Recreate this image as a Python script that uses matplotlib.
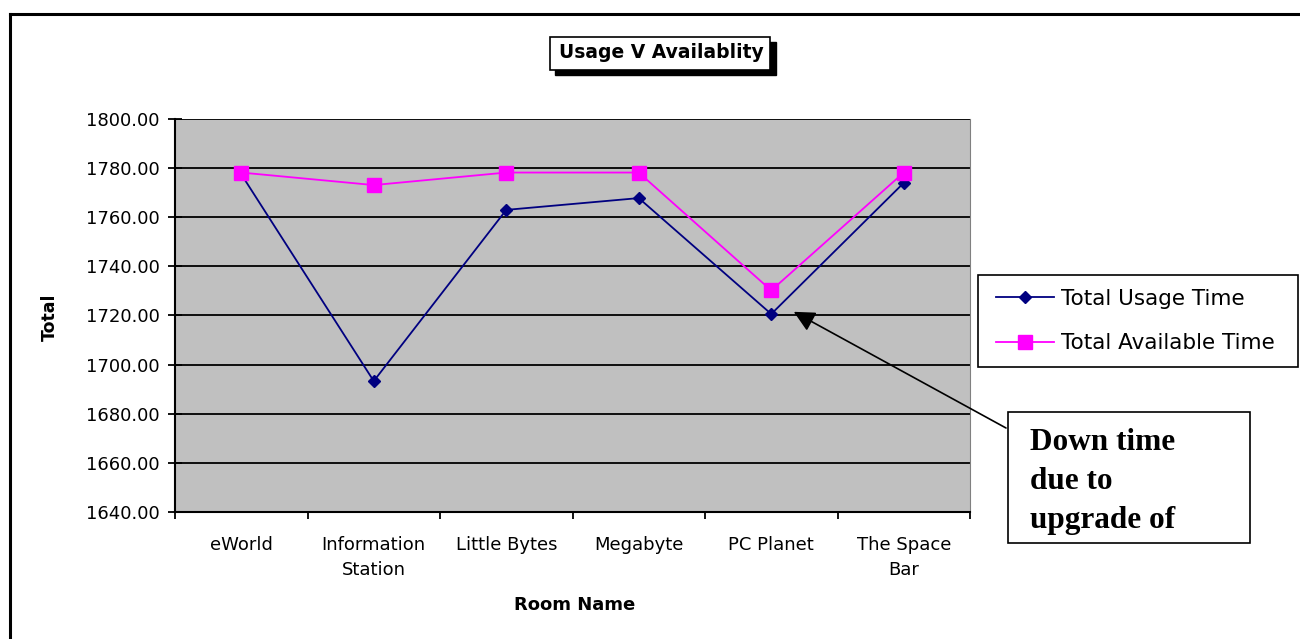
import numpy as np
import matplotlib.pyplot as plt
from matplotlib.patches import Rectangle
from matplotlib.lines import Line2D

plt.rcParams['font.family'] = ['DejaVu Sans']

# data
rooms = ["eWorld", "Information\nStation", "Little Bytes", "Megabyte", "PC Planet", "The Space\nBar"]
usage_time = [1777.5, 1693.3, 1763.0, 1767.8, 1720.6, 1774.0]
available_time = [1778.2, 1773.1, 1778.2, 1778.2, 1730.2, 1778.2]
y_ticks = [1640, 1660, 1680, 1700, 1720, 1740, 1760, 1780, 1800]

W, H = 1300, 639
fig = plt.figure(figsize=(13, 6.39), dpi=100)

def fx(px):
    return px / W

def fy(py):
    return 1 - py / H

# outer chart frame (left and top only visible)
fig.add_artist(Line2D([fx(10), fx(10)], [fy(14), 0], transform=fig.transFigure, color='black', lw=2.2))
fig.add_artist(Line2D([fx(10), 1], [fy(14), fy(14)], transform=fig.transFigure, color='black', lw=2.2))

ax = fig.add_axes([fx(175), fy(512), fx(970) - fx(175), fy(119) - fy(512)])
ax.set_facecolor('#c0c0c0')
x = np.arange(len(rooms))

ax.plot(x, usage_time, color='#000080', lw=1.3, marker='D', markersize=6.5, label='Total Usage Time', zorder=3)
ax.plot(x, available_time, color='#ff00ff', lw=1.3, marker='s', markersize=9.5, label='Total Available Time', zorder=4)

ax.set_xlim(-0.5, len(rooms) - 0.5)
ax.set_ylim(1640, 1800)
ax.set_yticks(y_ticks)
ax.set_yticklabels([f"{v:.2f}" for v in y_ticks], fontsize=13)
ax.yaxis.grid(True, color='black', lw=1.3)
ax.set_axisbelow(True)
ax.tick_params(axis='y', direction='inout', length=10, width=1.3, pad=6)

ax.set_xticks(np.arange(-0.5, len(rooms), 1))
ax.set_xticklabels([])
ax.set_xticks(x, minor=True)
ax.set_xticklabels(rooms, minor=True, fontsize=13, linespacing=1.5)
ax.tick_params(axis='x', which='major', direction='out', length=5, width=1.3)
ax.tick_params(axis='x', which='minor', length=0, pad=17)

for side in ['left', 'bottom']:
    ax.spines[side].set_linewidth(1.5)
    ax.spines[side].set_color('black')
ax.spines['top'].set_visible(False)
ax.spines['right'].set_color('#808080')

fig.text(fx(50), fy(317), "Total", rotation=90, fontsize=12.5, fontweight='bold', ha='center', va='center')
fig.text(fx(575), fy(605), "Room Name", fontsize=13, fontweight='bold', ha='center', va='center')

# title box with shadow
fig.add_artist(Rectangle((fx(555), fy(75)), fx(221), fy(37) - fy(70), transform=fig.transFigure,
                         facecolor='black', edgecolor='black'))
fig.add_artist(Rectangle((fx(550), fy(70)), fx(220), fy(37) - fy(70), transform=fig.transFigure,
                         facecolor='white', edgecolor='black', lw=1.2))
fig.text(fx(661), fy(53), "Usage V Availablity", fontsize=13.5, fontweight='bold', ha='center', va='center')

# legend: own frame, entries placed inside it
fig.add_artist(Rectangle((fx(978), fy(367)), fx(1298) - fx(978), fy(275) - fy(367), transform=fig.transFigure,
                         facecolor='white', edgecolor='black', lw=1.2))
fig.legend(loc='center left', bbox_to_anchor=(fx(996), fy(321)), fontsize=15.5, frameon=False,
           handlelength=2.7, handletextpad=0.3, labelspacing=1.15, borderpad=0, borderaxespad=0)

# annotation box
fig.add_artist(Rectangle((fx(1008), fy(543)), fx(1250) - fx(1008), fy(412) - fy(543), transform=fig.transFigure,
                         facecolor='white', edgecolor='black', lw=1.2))
fig.text(fx(1030), fy(428), "Down time\ndue to\nupgrade of", fontsize=22.5, fontweight='bold',
         family=['Liberation Serif', 'DejaVu Serif'], ha='left', va='top', linespacing=1.45)

ax.annotate("", xy=(4.17, 1721.5), xycoords='data', xytext=(fx(1006), fy(428)), textcoords='figure fraction',
            arrowprops=dict(arrowstyle='-|>', color='black', lw=1.2, mutation_scale=32, shrinkA=0, shrinkB=0),
            annotation_clip=False)

fig.savefig("out.png", dpi=100)
